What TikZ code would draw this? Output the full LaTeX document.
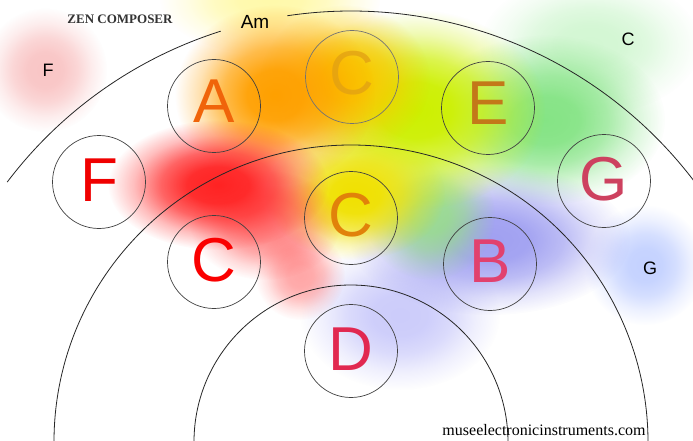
\documentclass[tikz,border=0pt]{standalone}
\usepackage{fontspec}
\setmainfont{Liberation Sans}
\newfontfamily\serifx{Liberation Serif}
\usetikzlibrary{fadings}
\pgfdeclareradialshading{softshade}{\pgfpointorigin}{rgb(0bp)=(1,1,1); rgb(7bp)=(0.95,0.95,0.95); rgb(13bp)=(0.7,0.7,0.7); rgb(19bp)=(0.3,0.3,0.3); rgb(25bp)=(0,0,0); rgb(50bp)=(0,0,0)}
\pgfdeclarefading{softfade}{\pgfuseshading{softshade}}
\definecolor{cpink}{RGB}{245,150,150}
\definecolor{cpaley}{RGB}{255,248,150}
\definecolor{corange}{RGB}{255,160,0}
\definecolor{cyel}{RGB}{250,200,0}
\definecolor{clime}{RGB}{205,240,0}
\definecolor{cgreen}{RGB}{120,225,120}
\definecolor{cpaleg}{RGB}{200,245,200}
\definecolor{cred}{RGB}{255,35,35}
\definecolor{cyel2}{RGB}{240,225,0}
\definecolor{cgreen2}{RGB}{150,225,130}
\definecolor{cblue}{RGB}{150,150,240}
\definecolor{clav}{RGB}{170,170,248}
\definecolor{cpaleb}{RGB}{190,205,255}
\definecolor{lF}{RGB}{240,0,0}
\definecolor{lA}{RGB}{240,100,10}
\definecolor{lCt}{RGB}{225,160,20}
\definecolor{lE}{RGB}{195,120,25}
\definecolor{lG}{RGB}{205,65,95}
\definecolor{lCm}{RGB}{225,130,10}
\definecolor{lCl}{RGB}{250,0,0}
\definecolor{lB}{RGB}{225,65,110}
\definecolor{lD}{RGB}{225,40,80}
\begin{document}
\begin{tikzpicture}[x=1pt,y=1pt,
  glow/.style={fill=#1, path fading=softfade},
  ring/.style={circle, draw=black!75, line width=0.7pt, minimum size=93pt, inner sep=0pt},
  bigl/.style={font=\fontsize{62}{62}\selectfont, inner sep=0pt},
  smalll/.style={font=\fontsize{18}{18}\selectfont, inner sep=0pt},
  arcline/.style={draw=black!85, line width=0.8pt}]
\useasboundingbox (0,0) rectangle (693,440);
\clip (0,0) rectangle (693,440);
\fill[white] (0,0) rectangle (693,440);
% background glows
\fill[glow=cpink, opacity=0.55] (45,370) circle (62);
\fill[glow=cpaley, opacity=0.8] (270,440) ellipse [x radius=110, y radius=55];
\fill[glow=cpaleg, opacity=0.8] (590,395) ellipse [x radius=110, y radius=70];
\fill[glow=cgreen, opacity=0.9] (545,320) ellipse [x radius=120, y radius=85];
\fill[glow=cpaleb, opacity=0.9] (645,175) circle (60);
\fill[glow=clav, opacity=0.6] (400,125) ellipse [x radius=100, y radius=75];
\fill[glow=cblue, opacity=0.9] (490,200) ellipse [x radius=140, y radius=75];
\fill[glow=cgreen2, opacity=0.85] (430,225) circle (65);
\fill[glow=clime] (415,330) ellipse [x radius=130, y radius=100];
\fill[glow=cyel2] (355,245) ellipse [x radius=90, y radius=65];
\fill[glow=cyel] (345,360) ellipse [x radius=85, y radius=75];
\fill[glow=corange] (275,345) ellipse [x radius=100, y radius=90];
\fill[glow=cred, opacity=0.4] (300,165) circle (45);
\fill[glow=cred, opacity=0.55] (265,215) ellipse [x radius=75, y radius=55];
\fill[glow=cred] (218,255) ellipse [x radius=110, y radius=65];
% arcs
\coordinate (ctr) at (351,-2);
\draw[arcline] ([shift={(142.9:431)}]ctr) arc[start angle=142.9, end angle=107.6, radius=431];
\draw[arcline] ([shift={(98.5:431)}]ctr) arc[start angle=98.5, end angle=34, radius=431];
\draw[arcline] ([shift={(181:297)}]ctr) arc[start angle=181, end angle=-1, radius=297];
\draw[arcline] ([shift={(181:157)}]ctr) arc[start angle=181, end angle=-1, radius=157];
% circles
\node[ring] (A) at (214,334) {};
\node[ring, draw=black!55] (Ct) at (352,363) {};
\node[ring] (E) at (488,332) {};
\node[ring] (F) at (99,258) {};
\node[ring] (G) at (604,259) {};
\node[ring] (Cm) at (351,222) {};
\node[ring] (Cl) at (214,178) {};
\node[ring] (B) at (490,176) {};
\node[ring] (D) at (351,89) {};
% letters
\node[bigl, text=lA] (tA) at ([yshift=5pt]A.center) {A};
\node[bigl, text=lCt, opacity=0.75] (tCt) at ([yshift=4pt]Ct.center) {C};
\node[bigl, text=lE] (tE) at ([yshift=5pt]E.center) {E};
\node[bigl, text=lF] (tF) at ([yshift=2pt]F.center) {F};
\node[bigl, text=lG] (tG) at ([yshift=2pt]G.center) {G};
\node[bigl, text=lCm] (tCm) at ([yshift=3pt]Cm.center) {C};
\node[bigl, text=lCl] (tCl) at ([yshift=2pt]Cl.center) {C};
\node[bigl, text=lB] (tB) at ([yshift=3pt]B.center) {B};
\node[bigl, text=lD] (tD) at ([yshift=2pt]D.center) {D};
% small labels
\node[font=\serifx\bfseries\fontsize{13}{13}\selectfont, text=black!80, inner sep=0pt] (title) at (120,421) {ZEN COMPOSER};
\node[font=\fontsize{19}{19}\selectfont, inner sep=0pt] (am) at (255,418) {Am};
\node[smalll] (sF) at (48,370) {F};
\node[smalll] (sC) at (628,401) {C};
\node[smalll] (sG) at (650,172) {G};
\node[font=\serifx\fontsize{16}{16}\selectfont, inner sep=0pt, anchor=base] (web) at (544,5) {museelectronicinstruments.com};
\end{tikzpicture}
\end{document}
